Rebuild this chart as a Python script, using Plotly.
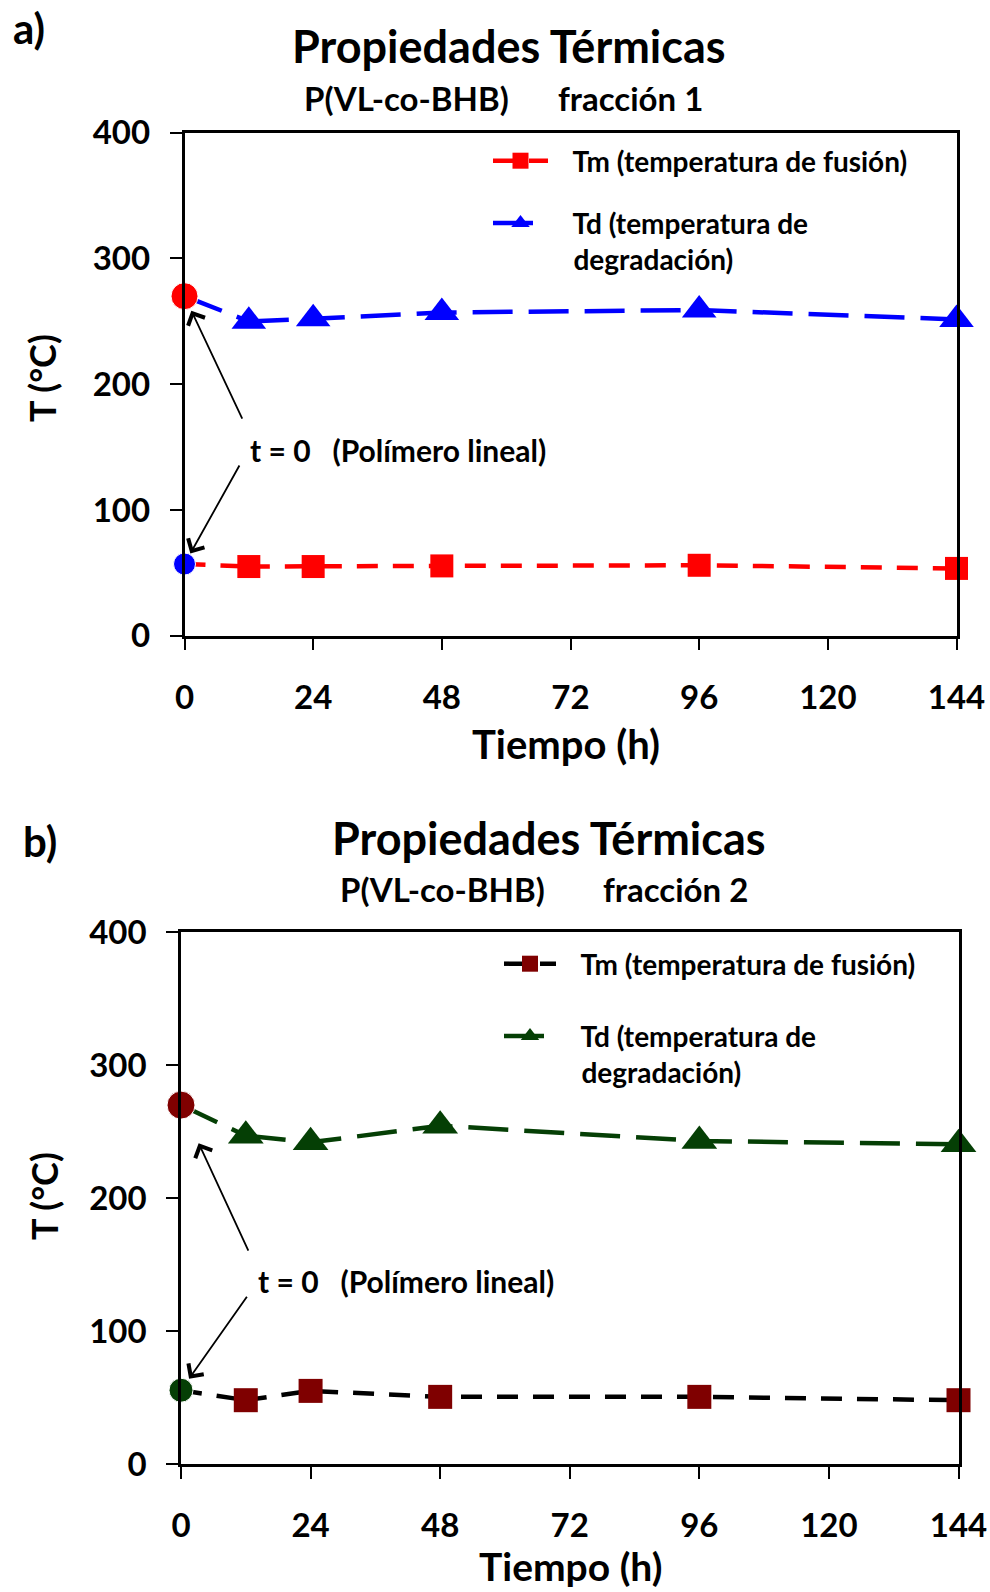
import plotly.graph_objects as go

# Tiempo de reacción (h) y temperaturas (°C)
tiempo = [0, 12, 24, 48, 96, 144]
x_ticks = [0, 24, 48, 72, 96, 120, 144]
y_ticks = [0, 100, 200, 300, 400]

# fracción 1
td_f1 = [270, 250, 252, 257, 259, 251.5]
tm_f1 = [57, 55, 55, 55.5, 56, 53.5]

# fracción 2
td_f2 = [270, 247, 242, 254.5, 243, 240.5]
tm_f2 = [55.5, 48, 55, 50.5, 50.5, 48]

W, H = 990, 1592
FONT = "Lato"
NB = "\u00a0"


def fx(px):
    return px / W


def fy(py):
    return 1 - py / H


fig = go.Figure()


def add_panel(xa, ya, legend, td, tm, td_color, tm_line, tm_marker,
              circ_top, circ_bot, sizes):
    sq, tri, c_top, c_bot = sizes
    td_line = dict(color=td_color, width=4.5, dash="40px,16px")
    tm_line_d = dict(color=tm_line, width=4.5, dash="21px,15px")
    # tramos desde t = 0
    fig.add_trace(go.Scatter(x=tiempo[:2], y=td[:2], mode="lines", line=td_line,
                             xaxis=xa, yaxis=ya, showlegend=False,
                             cliponaxis=False, hoverinfo="skip"))
    fig.add_trace(go.Scatter(x=tiempo[:2], y=tm[:2], mode="lines", line=tm_line_d,
                             xaxis=xa, yaxis=ya, showlegend=False,
                             cliponaxis=False, hoverinfo="skip"))
    fig.add_trace(go.Scatter(x=tiempo[1:], y=tm[1:], mode="lines+markers",
                             name=NB * 3 + "Tm (temperatura de fusión)",
                             line=tm_line_d,
                             marker=dict(symbol="square", size=sq, color=tm_marker),
                             xaxis=xa, yaxis=ya, legend=legend, legendgroup="tm",
                             cliponaxis=False))
    fig.add_trace(go.Scatter(x=tiempo[1:], y=td[1:], mode="lines+markers",
                             name=NB * 3 + "Td (temperatura de<br>" + NB * 3 + "degradación)",
                             line=td_line,
                             marker=dict(symbol="triangle-up", size=tri, color=td_color),
                             xaxis=xa, yaxis=ya, legend=legend, legendgroup="td",
                             cliponaxis=False))
    # polímero lineal (t = 0)
    fig.add_trace(go.Scatter(x=[tiempo[0], tiempo[0]], y=[td[0], tm[0]],
                             mode="markers",
                             marker=dict(symbol="circle", size=[c_top, c_bot],
                                         color=[circ_top, circ_bot], opacity=1),
                             xaxis=xa, yaxis=ya, showlegend=False, cliponaxis=False))


add_panel("x", "y", "legend", td_f1, tm_f1, "#0000FF", "#FF0000", "#FF0000",
          "#FF0000", "#0000FF", (23, 30, 27, 22))
add_panel("x2", "y2", "legend2", td_f2, tm_f2, "#053F05", "#000000", "#7F0000",
          "#800000", "#053F05", (24, 31, 28, 24))

axis_common = dict(showline=True, linecolor="black", linewidth=2.5, mirror=True,
                   ticks="outside", ticklen=12, tickwidth=2, tickcolor="black",
                   showgrid=False, zeroline=False, automargin=False,
                   tickfont=dict(family=FONT, size=33, color="black", weight="bold"))

legend_font = dict(family=FONT, size=28, color="black", weight="bold")
note_font = dict(family=FONT, size=30, color="black", weight="bold")

fig.update_layout(
    width=W, height=H,
    margin=dict(l=0, r=0, t=0, b=0),
    paper_bgcolor="white", plot_bgcolor="white",
    font=dict(family=FONT, color="black", weight="bold"),
    xaxis=dict(domain=[fx(184.5), fx(956.5)], range=[0, 144], tickvals=x_ticks,
               ticklabelstandoff=19, anchor="y", **axis_common),
    yaxis=dict(domain=[fy(635.7), fy(132.7)], range=[0, 400], tickvals=y_ticks,
               ticklabelstandoff=13, anchor="x", **axis_common),
    xaxis2=dict(domain=[fx(181), fx(958.5)], range=[0, 144], tickvals=x_ticks,
                ticklabelstandoff=19, anchor="y2", **axis_common),
    yaxis2=dict(domain=[fy(1464), fy(932.3)], range=[0, 400], tickvals=y_ticks,
                ticklabelstandoff=13, anchor="x2", **axis_common),
    legend=dict(x=fx(488), y=fy(136), xanchor="left", yanchor="top",
                bgcolor="rgba(0,0,0,0)", font=legend_font,
                traceorder="grouped", tracegroupgap=23, itemwidth=55, valign="top"),
    legend2=dict(x=fx(499), y=fy(939), xanchor="left", yanchor="top",
                 bgcolor="rgba(0,0,0,0)", font=legend_font,
                 traceorder="grouped", tracegroupgap=33, itemwidth=52, valign="top"),
    showlegend=True,
)

ann = []


def text(x, y, s, size, xanchor="center", angle=0):
    ann.append(dict(x=fx(x), y=fy(y), xref="paper", yref="paper", text=s,
                    showarrow=False, xanchor=xanchor, yanchor="middle",
                    textangle=angle,
                    font=dict(family=FONT, size=size, color="black", weight="bold")))


# panel a
text(29, 28, "a)", 42)
text(508.5, 46, "Propiedades Térmicas", 45)
text(511, 98, "P(VL-co-BHB)", 33, "right")
text(556, 98, "fracción 1", 33, "left")
text(42, 378, "T (°C)", 36, angle=-90)
text(566, 744, "Tiempo (h)", 40)
# panel b
text(40, 841, "b)", 42)
text(548.5, 838, "Propiedades Térmicas", 45)
text(547, 889, "P(VL-co-BHB)", 33, "right")
text(601, 889, "fracción 2", 33, "left")
text(44, 1196, "T (°C)", 36, angle=-90)
text(570, 1566, "Tiempo (h)", 39)

lbl = "t = 0" + NB * 3 + "(Polímero lineal)"
ann.append(dict(x=11.9, y=147.5, xref="x", yref="y", text=lbl, showarrow=False,
                xanchor="left", yanchor="middle", font=note_font))
ann.append(dict(x=13.8, y=137.6, xref="x2", yref="y2", text=lbl, showarrow=False,
                xanchor="left", yanchor="middle", font=note_font))

# flechas hacia los puntos de t = 0
arrow = dict(showarrow=True, arrowhead=4, arrowsize=2.0, arrowwidth=1.8,
             arrowcolor="black", text="")
ann.append(dict(x=tiempo[0], y=td_f1[0], xref="x", yref="y", axref="x", ayref="y",
                ax=10.9, ay=171.5, standoff=16, **arrow))
ann.append(dict(x=tiempo[0], y=tm_f1[0], xref="x", yref="y", axref="x", ayref="y",
                ax=10.4, ay=136.5, standoff=12, **arrow))
ann.append(dict(x=tiempo[0], y=td_f2[0], xref="x2", yref="y2", axref="x2", ayref="y2",
                ax=12.6, ay=159.4, standoff=42, **arrow))
ann.append(dict(x=tiempo[0], y=tm_f2[0], xref="x2", yref="y2", axref="x2", ayref="y2",
                ax=12.4, ay=127, standoff=14, **arrow))

fig.update_layout(annotations=ann)
fig.write_html("out.html")
